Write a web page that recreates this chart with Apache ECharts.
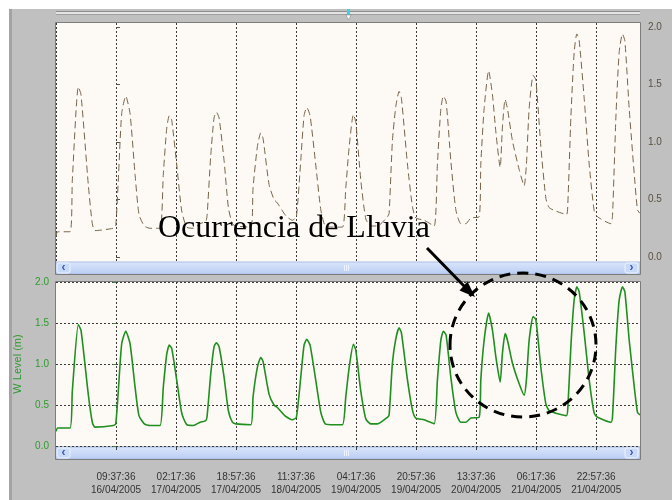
<!DOCTYPE html>
<html>
<head>
<meta charset="UTF-8">
<title>W Level</title>
<script src="https://cdn.jsdelivr.net/npm/echarts@6/dist/echarts.min.js"></script>
<style>
  html, body { margin: 0; padding: 0; background: #ffffff; }
  #chart { width: 672px; height: 500px; }
</style>
</head>
<body>
<div id="chart"></div>
<script>
// minutes relative to 09:37:36 16/04/2005
var minutes = [-1000,-972,-767,-728,-628,-583,-462,-395,-350,-45,
  -5,38,95,162,233,317,383,472,567,733,
  788,845,888,928,1012,1095,1178,1288,1400,1495,
  1517,1578,1633,1672,1717,1800,1872,1938,1995,2245,
  2283,2355,2412,2450,2550,2633,2688,2828,2938,3005,
  3078,3133,3178,3233,3328,3412,3483,3578,3772,3828,
  3883,3955,3995,4078,4162,4245,4355,4522,4550,4605,
  4662,4717,4755,4855,4938,4995,5133,5300,5355,5412,
  5455,5500,5578,5662,5745,5828,5912,6050,6078,6133,
  6208,6272,6328,6400,6438,6483,6522,6605,6717,6800,
  6838,6883,6950,6995,7078,7162,7217,7328,7505,7528,
  7578,7633,7678,7717,7800,7883,7967,8022,8245,8272,
  8328,8383,8438,8478,8550,8633,8688,8730];
// water level (m)
var level = [0.18,0.22,0.22,0.67,1.48,1.41,0.63,0.29,0.23,0.25,
  0.27,0.67,1.25,1.40,1.25,0.72,0.37,0.27,0.25,0.25,
  0.72,1.12,1.23,1.19,0.80,0.40,0.26,0.25,0.29,0.31,
  0.36,0.88,1.21,1.26,1.21,0.84,0.43,0.29,0.27,0.26,
  0.60,0.96,1.08,1.03,0.63,0.50,0.47,0.36,0.32,0.35,
  0.84,1.23,1.30,1.23,0.80,0.41,0.27,0.26,0.26,0.60,
  0.95,1.24,1.17,0.67,0.33,0.27,0.27,0.35,0.38,1.01,
  1.31,1.44,1.38,0.81,0.44,0.34,0.32,0.27,0.81,1.29,
  1.40,1.35,0.84,0.41,0.29,0.29,0.34,0.35,0.81,1.29,
  1.62,1.41,1.09,0.78,1.13,1.37,1.29,1.01,0.76,0.62,
  0.81,1.29,1.58,1.54,0.96,0.51,0.43,0.40,0.37,0.47,
  1.21,1.78,1.94,1.88,1.38,0.81,0.40,0.35,0.29,0.36,
  1.21,1.78,1.94,1.88,1.29,0.73,0.41,0.38];
var tickMinutes = [0,1000,2000,3000,4000,5000,6000,7000,8000];
var levelTicks = [0,0.5,1,1.5,2];
var annotation = 'Ocurrencia de Lluvia';

var base = Date.UTC(2005, 3, 16, 9, 37, 36);
function p2(n) { return (n < 10 ? '0' : '') + n; }
function fmtTime(v) {
  var d = new Date(base + v * 60000);
  return p2(d.getUTCHours()) + ':' + p2(d.getUTCMinutes()) + ':' + p2(d.getUTCSeconds()) +
    '\n' + p2(d.getUTCDate()) + '/' + p2(d.getUTCMonth() + 1) + '/' + d.getUTCFullYear();
}

var data = minutes.map(function (m, i) { return [m, level[i]]; });

var font = '"Liberation Sans", Arial, sans-serif';
var gridDash = { color: '#3a3a3a', width: 1, type: [2, 2] };

// scrollbar drawn under each panel
function scrollbar(y) {
  return [
    { type: 'rect', shape: { x: 56, y: y, width: 584, height: 12 },
      style: { fill: new echarts.graphic.LinearGradient(0, 0, 0, 1, [
        { offset: 0, color: '#dbe6fb' }, { offset: 1, color: '#b9cdf3' }]), stroke: '#a9bde6' } },
    { type: 'rect', shape: { x: 57, y: y + 1, width: 13, height: 10, r: 2 },
      style: { fill: '#c9daf9', stroke: '#eef3fd' } },
    { type: 'text', x: 63.5, y: y + 6, style: { text: '‹', font: 'bold 12px ' + font, fill: '#3a5aa8', align: 'center', verticalAlign: 'middle' } },
    { type: 'rect', shape: { x: 625, y: y + 1, width: 13, height: 10, r: 2 },
      style: { fill: '#c9daf9', stroke: '#eef3fd' } },
    { type: 'text', x: 631.5, y: y + 6, style: { text: '›', font: 'bold 12px ' + font, fill: '#3a5aa8', align: 'center', verticalAlign: 'middle' } },
    { type: 'line', shape: { x1: 344.5, y1: y + 3, x2: 344.5, y2: y + 9 }, style: { stroke: '#eef4ff' } },
    { type: 'line', shape: { x1: 346.5, y1: y + 3, x2: 346.5, y2: y + 9 }, style: { stroke: '#eef4ff' } },
    { type: 'line', shape: { x1: 348.5, y1: y + 3, x2: 348.5, y2: y + 9 }, style: { stroke: '#eef4ff' } }
  ];
}

var graphics = [
  { type: 'rect', z: -100, shape: { x: 9, y: 9, width: 663, height: 491 }, style: { fill: '#c0c0c0' } },
  { type: 'rect', z: -100, shape: { x: 9, y: 9, width: 3, height: 491 }, style: { fill: '#a4a4a4' } },
  // top slider
  { type: 'rect', shape: { x: 56, y: 11, width: 584, height: 1 }, style: { fill: '#8e8e8e' } },
  { type: 'rect', shape: { x: 56, y: 12, width: 584, height: 2 }, style: { fill: '#e4e4e4' } },
  { type: 'rect', shape: { x: 56, y: 14, width: 584, height: 1 }, style: { fill: '#a0a0a0' } },
  { type: 'rect', shape: { x: 347, y: 9, width: 3, height: 6 }, style: { fill: '#38d4e6' } },
  { type: 'polygon', shape: { points: [[346, 15], [351, 15], [348.5, 20]] }, style: { fill: '#ffffff', stroke: '#7a7a7a', lineWidth: 0.5 } },
  // panel frames
  { type: 'rect', z: 5, shape: { x: 55.5, y: 22.5, width: 585, height: 252 }, style: { fill: 'none', stroke: '#7c7c7c' } },
  { type: 'rect', z: 5, shape: { x: 55.5, y: 281.5, width: 585, height: 178 }, style: { fill: 'none', stroke: '#7c7c7c' } }
].concat(scrollbar(262), scrollbar(447)).concat([
  // annotation
  { type: 'text', z: 100, x: 158, y: 229,
    style: { text: annotation, font: '32px "Liberation Serif", "Times New Roman", serif', fill: '#000000', align: 'left', verticalAlign: 'middle' } },
  { type: 'line', z: 100, shape: { x1: 427, y1: 248, x2: 465, y2: 287 }, style: { stroke: '#000000', lineWidth: 3 } },
  { type: 'polygon', z: 100, shape: { points: [[475, 297], [459.5, 290.5], [467.5, 281.5]] }, style: { fill: '#000000' } },
  { type: 'ellipse', z: 100, shape: { cx: 523, cy: 345, rx: 73, ry: 72 },
    style: { fill: 'none', stroke: '#000000', lineWidth: 3, lineDash: [11, 7] } }
]);

var chart = echarts.init(document.getElementById('chart'));
chart.setOption({
  backgroundColor: '#ffffff',
  animation: false,
  textStyle: { fontFamily: font },
  grid: [
    { left: 56, right: 32, top: 23, height: 239, show: true, backgroundColor: '#fdf9f4', borderWidth: 0 },
    { left: 56, right: 32, top: 282, height: 164, show: true, backgroundColor: '#fdf9f4', borderWidth: 0 }
  ],
  xAxis: [
    { type: 'value', gridIndex: 0, min: -1000, max: 8730, interval: 1000,
      axisLine: { show: false }, axisTick: { show: false }, axisLabel: { show: false },
      splitLine: { show: true, lineStyle: gridDash } },
    { type: 'value', gridIndex: 1, min: -1000, max: 8730, interval: 1000, offset: 14,
      axisLine: { show: false },
      axisTick: { show: true, customValues: tickMinutes, length: 4, lineStyle: { color: '#3a3a3a' } },
      axisLabel: { customValues: tickMinutes, formatter: fmtTime, color: '#333333', fontSize: 10,
        lineHeight: 13, margin: 11, fontFamily: font },
      splitLine: { show: true, lineStyle: gridDash } }
  ],
  yAxis: [
    { type: 'value', gridIndex: 0, position: 'right', min: -0.043, max: 2.035,
      axisLine: { show: false }, splitLine: { show: false },
      axisTick: { show: true, customValues: levelTicks, length: 4, lineStyle: { color: '#5a5040' } },
      axisLabel: { customValues: levelTicks, formatter: function (v) { return v.toFixed(1); },
        color: '#5a5040', fontSize: 10, margin: 8, fontFamily: font } },
    { type: 'value', gridIndex: 1, position: 'left', min: 0, max: 2, interval: 0.5,
      name: 'W Level (m)', nameLocation: 'middle', nameGap: 33,
      nameTextStyle: { color: '#2f9a2f', fontSize: 11, fontFamily: font },
      axisLine: { show: false },
      axisTick: { show: true, length: 3, lineStyle: { color: '#2f9a2f' } },
      axisLabel: { formatter: function (v) { return v.toFixed(1); }, color: '#2f9a2f', fontSize: 10, margin: 7, fontFamily: font },
      splitLine: { show: true, lineStyle: gridDash } }
  ],
  series: [
    { type: 'line', xAxisIndex: 0, yAxisIndex: 0, data: data, showSymbol: false, smooth: 0.2, silent: true,
      lineStyle: { color: '#76654c', width: 1, type: [7, 4] } },
    { type: 'line', xAxisIndex: 1, yAxisIndex: 1, data: data, showSymbol: false, smooth: 0.2, silent: true,
      lineStyle: { color: '#1f8f1f', width: 1.6 } }
  ],
  graphic: graphics
});
</script>
</body>
</html>
